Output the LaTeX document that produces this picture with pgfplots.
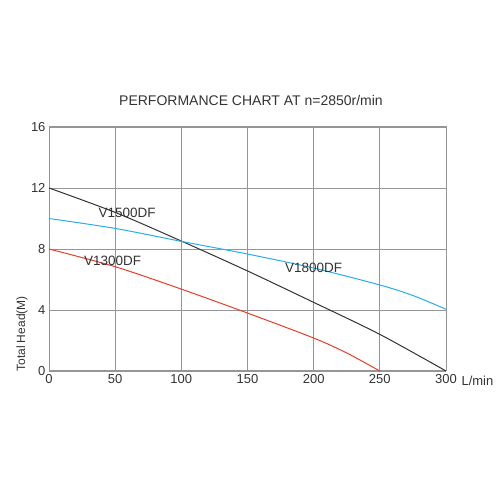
\documentclass[border=0pt]{standalone}
\usepackage{pgfplots}
\pgfplotsset{compat=1.18}
\usepackage{fontspec}
\setmainfont{Liberation Sans}
\definecolor{cblack}{RGB}{50,50,50}
\definecolor{cblue}{RGB}{40,175,230}
\definecolor{cred}{RGB}{232,62,40}
\definecolor{cgrid}{RGB}{150,150,150}
\begin{document}
\begin{tikzpicture}
\path[use as bounding box] (0,0) rectangle (500pt,500pt);
\begin{axis}[
    at={(49pt,129pt)}, anchor=south west,
    scale only axis,
    width=397pt, height=244pt,
    xmin=0, xmax=300, ymin=0, ymax=16,
    xtick={0,50,...,300}, ytick={0,4,...,16},
    grid=major,
    grid style={cgrid, line width=0.8pt},
    axis line style={cgrid, line width=1pt},
    tick style={draw=none},
    ticklabel style={font=\fontsize{13}{14}\selectfont, text=black!80},
    /pgf/number format/assume math mode=true,
    clip=false,
]
\addplot[cblack, line width=1pt, smooth] coordinates {
(0,12) (50,10.4) (100,8.52) (150,6.56) (200,4.5) (250,2.4) (300,0)};
\addplot[cblue, line width=1pt, smooth] coordinates {
(0,10) (50,9.35) (100,8.5) (150,7.67) (200,6.75) (250,5.64) (275,4.95) (300,4.05)};
\addplot[cred, line width=1pt, smooth] coordinates {
(0,8) (50,6.84) (100,5.37) (150,3.8) (200,2.16) (225,1.18) (250,0)};
\node[font=\fontsize{13.5}{14}\selectfont, text=black!80] at (axis cs:59,10.4) {V1500DF};
\node[font=\fontsize{13.5}{14}\selectfont, text=black!80] at (axis cs:48,7.2) {V1300DF};
\node[font=\fontsize{13.5}{14}\selectfont, text=black!80] at (axis cs:200,6.75) {V1800DF};
\node[font=\fontsize{13}{14}\selectfont, text=black!80, anchor=west] at (axis cs:300,0) [yshift=-10pt, xshift=12pt] {L/min};
\end{axis}
\node[font=\fontsize{14}{16}\selectfont, text=black!80] at (251pt,399pt) {PERFORMANCE CHART AT n=2850r/min};
\node[font=\fontsize{12}{13}\selectfont, text=black!80, rotate=90] at (22pt,166pt) {Total Head(M)};
\end{tikzpicture}
\end{document}
